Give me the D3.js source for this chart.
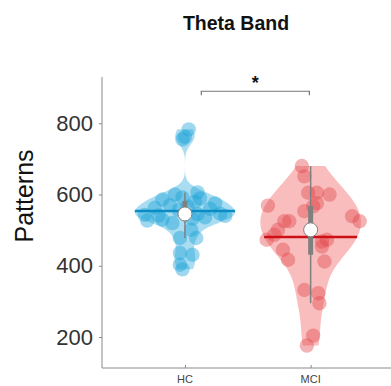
<!DOCTYPE html>
<html>
<head>
<meta charset="utf-8">
<script src="https://cdn.jsdelivr.net/npm/d3@7"></script>
<style>
  body { margin: 0; background: #fff; }
  svg { display: block; font-family: "Liberation Sans", Arial, sans-serif; }
</style>
</head>
<body>
<div id="chart"></div>
<script>
// groups and their colours
const categories = ['HC', 'MCI'];
const yTicks = [200, 400, 600, 800];

// values, with the horizontal scatter (in category units)
const hcValues = [390, 403, 431, 436, 478, 478, 501, 520, 527, 530, 532, 536, 540, 541, 543, 545,
  546, 556, 560, 563, 566, 570, 575, 580, 586, 589, 592, 600, 606, 755, 762, 783];
const hcJitter = [-0.02, -0.04, 0.06, -0.04, -0.04, 0.09, 0.05, -0.10, -0.30, -0.18, 0.06, 0.16, 0.32, -0.21, -0.32, 0.10,
  0.28, -0.05, 0.20, -0.24, 0.02, -0.12, 0.24, 0.08, -0.18, 0.12, -0.02, -0.08, 0.10, -0.02, 0.0, 0.03];

const mciValues = [680, 651, 605, 605, 600, 576, 569, 567, 553, 539, 525, 525, 525, 501,
  487, 473, 473, 468, 454, 445, 417, 412, 332, 323, 295, 204, 176];
const mciJitter = [-0.07, -0.05, -0.02, 0.05, 0.15, 0.05, -0.34, 0.02, -0.05, 0.33, 0.39, -0.17, -0.21, -0.26,
  -0.29, -0.35, 0.13, 0.09, 0.09, -0.22, -0.18, 0.11, -0.05, 0.06, 0.07, 0.02, -0.03];

const bandwidths = [21, 57];
const significance = { from: 1.13, to: 1.99, level: 890, label: '*' };

const groups = [
  { name: 'HC', values: hcValues, jitter: hcJitter, bw: bandwidths[0],
    dot: '#1aa3d6', fill: '#2aaadb', mean: '#0b8cc4' },
  { name: 'MCI', values: mciValues, jitter: mciJitter, bw: bandwidths[1],
    dot: '#e2474c', fill: '#f05a5a', mean: '#cc1015' }
];

const width = 391, height = 386;
const svg = d3.select('#chart').append('svg')
  .attr('width', width)
  .attr('height', height);

const x = d3.scaleLinear().domain([0.34, 2.66]).range([102, 393.6]);
const y = d3.scaleLinear().domain([113, 930]).range([368, 77]);

// axes
svg.append('line')
  .attr('x1', x(0.34)).attr('x2', x(0.34))
  .attr('y1', y(930)).attr('y2', y(113))
  .attr('stroke', '#8a8a8a').attr('stroke-width', 1);
svg.append('line')
  .attr('x1', x(0.34)).attr('x2', width)
  .attr('y1', y(113)).attr('y2', y(113))
  .attr('stroke', '#8a8a8a').attr('stroke-width', 1);

const yAxis = svg.append('g').attr('transform', `translate(${x(0.34)},0)`)
  .call(d3.axisLeft(y).tickValues(yTicks).tickSize(3).tickPadding(6));
yAxis.select('.domain').remove();
yAxis.selectAll('line').attr('stroke', '#8a8a8a');
yAxis.selectAll('text').attr('fill', '#333').style('font-size', '22px');

const xAxis = svg.append('g').attr('transform', `translate(0,${y(113)})`)
  .call(d3.axisTop(x).tickValues([1, 2]).tickSize(3).tickFormat(() => ''));
xAxis.select('.domain').remove();
xAxis.selectAll('line').attr('stroke', '#8a8a8a');
svg.selectAll('.xlab').data(categories).enter().append('text')
  .attr('x', (d, i) => x(i + 1))
  .attr('y', y(113) + 15)
  .attr('text-anchor', 'middle')
  .attr('fill', '#444')
  .style('font-size', '11px')
  .text(d => d);

svg.append('text')
  .attr('transform', `translate(33,196) rotate(-90)`)
  .attr('text-anchor', 'middle')
  .attr('fill', '#111')
  .style('font-size', '25px')
  .text('Patterns');

svg.append('text')
  .attr('x', 236).attr('y', 30)
  .attr('text-anchor', 'middle')
  .attr('fill', '#111')
  .style('font-size', '19.5px')
  .style('font-weight', 'bold')
  .text('Theta Band');

const gauss = u => Math.exp(-0.5 * u * u) / Math.sqrt(2 * Math.PI);
const violinHalfWidth = 0.4;

groups.forEach((g, i) => {
  const pos = i + 1;
  const sorted = g.values.slice().sort(d3.ascending);
  const lo = sorted[0], hi = sorted[sorted.length - 1];
  const grid = d3.range(0, 101).map(k => lo + (hi - lo) * k / 100);
  const kde = v => d3.mean(sorted, d => gauss((v - d) / g.bw)) / g.bw;
  const dens = grid.map(v => [v, kde(v)]);
  const maxD = d3.max(dens, d => d[1]);
  const half = v => kde(v) / maxD * violinHalfWidth;

  const area = d3.area()
    .curve(d3.curveBasis)
    .y(d => y(d[0]))
    .x0(d => x(pos - d[1] / maxD * violinHalfWidth))
    .x1(d => x(pos + d[1] / maxD * violinHalfWidth));

  svg.append('path')
    .datum(dens)
    .attr('d', area)
    .attr('fill', g.fill)
    .attr('fill-opacity', 0.4);

  svg.append('g').selectAll('circle')
    .data(g.values.map((v, k) => ({ v, j: g.jitter[k] })))
    .enter().append('circle')
    .attr('cx', d => x(pos + d.j))
    .attr('cy', d => y(d.v))
    .attr('r', 7.2)
    .attr('fill', g.dot)
    .attr('fill-opacity', 0.42);

  // mean line across the violin
  const mean = d3.mean(sorted);
  const mw = half(mean);
  svg.append('line')
    .attr('x1', x(pos - mw)).attr('x2', x(pos + mw))
    .attr('y1', y(mean)).attr('y2', y(mean))
    .attr('stroke', g.mean).attr('stroke-width', 2.5);

  // box and whiskers
  const q1 = d3.quantile(sorted, 0.25), q3 = d3.quantile(sorted, 0.75), med = d3.quantile(sorted, 0.5);
  const iqr = q3 - q1;
  const wLo = d3.min(sorted.filter(d => d >= q1 - 1.5 * iqr));
  const wHi = d3.max(sorted.filter(d => d <= q3 + 1.5 * iqr));
  svg.append('line')
    .attr('x1', x(pos)).attr('x2', x(pos))
    .attr('y1', y(wLo)).attr('y2', y(wHi))
    .attr('stroke', '#808080').attr('stroke-width', 1.5);
  svg.append('rect')
    .attr('x', x(pos) - 2.5).attr('width', 5)
    .attr('y', y(q3)).attr('height', y(q1) - y(q3))
    .attr('fill', '#808080');
  svg.append('circle')
    .attr('cx', x(pos)).attr('cy', y(med))
    .attr('r', 7)
    .attr('fill', '#fff')
    .attr('stroke', '#808080').attr('stroke-width', 1);
});

// significance bracket
const sy = y(significance.level);
svg.append('path')
  .attr('d', `M${x(significance.from)},${sy + 4}V${sy}H${x(significance.to)}V${sy + 4}`)
  .attr('fill', 'none')
  .attr('stroke', '#777')
  .attr('stroke-width', 1.2);
svg.append('text')
  .attr('x', x((significance.from + significance.to) / 2))
  .attr('y', sy - 2)
  .attr('text-anchor', 'middle')
  .attr('fill', '#111')
  .style('font-size', '18px')
  .style('font-weight', 'bold')
  .text(significance.label);
</script>
</body>
</html>
